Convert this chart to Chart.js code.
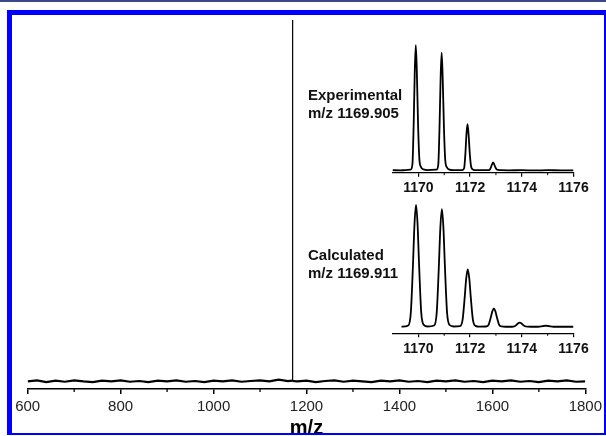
<!DOCTYPE html>
<html>
<head>
<meta charset="utf-8">
<script src="https://cdn.jsdelivr.net/npm/chart.js@4.4.0/dist/chart.umd.min.js"></script>
<style>
body { margin: 0; width: 606px; height: 436px; overflow: hidden; background: #fff; position: relative; }
#strip { position: absolute; left: 0; top: 0; width: 606px; height: 2px; background: #3d4886; }
#frame { position: absolute; left: 7px; top: 10px; width: 599px; height: 425px; box-sizing: border-box;
  border-top: 5px solid #0000ff; border-left: 5px solid #0000ff; border-right: 2px solid #0000ff; border-bottom: 2px solid #0000ff;
  pointer-events: none; z-index: 5; }
canvas { position: absolute; }
#main { left: 0; top: 0; }
#exp { left: 300px; top: 30px; }
#calc { left: 300px; top: 190px; }
</style>
</head>
<body>
<div id="strip"></div>
<canvas id="main" width="606" height="436"></canvas>
<canvas id="exp" width="300" height="170"></canvas>
<canvas id="calc" width="300" height="170"></canvas>
<div id="frame"></div>
<script>
// full spectrum
const mainMz = [600,620,640,660,680,700,720,740,760,780,800,820,840,860,880,900,920,940,960,980,1000,1020,1040,1060,1080,1100,1120,1140,1160,
  1169.4,1169.9,1170.4,
  1180,1200,1220,1240,1260,1280,1300,1320,1340,1360,1380,1400,1420,1440,1460,1480,1500,1520,1540,1560,1580,1600,1620,1640,1660,1680,1700,1720,1740,1760,1780,1800];
const mainInt = [0.3,0.6,0.1,0.5,0.2,0.6,0.3,0.1,0.5,0.3,0.6,0.2,0.4,0.1,0.5,0.3,0.6,0.2,0.4,0.1,0.5,0.3,0.6,0.2,0.4,0.6,0.3,0.8,0.4,
  0.5,100,0.4,
  0.3,0.5,0.1,0.4,0.6,0.2,0.5,0.3,0.1,0.5,0.3,0.6,0.2,0.4,0.1,0.5,0.3,0.6,0.2,0.4,0.1,0.5,0.3,0.6,0.2,0.4,0.1,0.5,0.3,0.6,0.2,0.3];
const mainMinor = [700,900,1100,1300,1500,1700];

// experimental isotope pattern
const expMz = [1169.0,1169.3,1169.5,
  1169.70,1169.77,1169.82,1169.86,1169.90,1169.94,1169.99,1170.04,1170.10,1170.20,1170.35,
  1170.70,1170.77,1170.82,1170.86,1170.90,1170.94,1170.99,1171.04,1171.10,1171.20,1171.35,
  1171.70,1171.77,1171.82,1171.86,1171.90,1171.94,1171.99,1172.04,1172.10,1172.20,1172.35,
  1172.69,1172.76,1172.81,1172.85,1172.89,1172.93,1172.98,1173.03,1173.09,1173.21,
  1173.5,1174,1174.5,1175,1175.5,1176];
const expInt = [0.4,0.3,0.4,
  0.8,5,38,78,100,80,36,9,3,1,0.5,
  0.8,4.7,36,73,94,75,34,8.5,2.8,0.9,0.5,
  0.5,1.9,14,29,37,29.6,13.3,3.3,1.1,0.5,0.4,
  0.4,0.8,2.8,5,6.5,5.2,2.6,1,0.6,0.4,
  0.3,0.4,0.2,0.4,0.3,0.3];

// calculated isotope pattern
const calcMz = [1169.35,
  1169.61,1169.71,1169.79,1169.85,1169.91,1169.97,1170.03,1170.11,1170.21,1170.36,
  1170.61,1170.71,1170.79,1170.85,1170.91,1170.97,1171.03,1171.11,1171.21,1171.36,
  1171.61,1171.71,1171.79,1171.85,1171.91,1171.97,1172.03,1172.11,1172.21,1172.36,
  1172.62,1172.72,1172.80,1172.86,1172.92,1172.98,1173.04,1173.12,1173.22,1173.37,
  1173.62,1173.72,1173.80,1173.86,1173.92,1173.98,1174.04,1174.12,1174.22,1174.37,
  1174.63,1174.75,1174.85,1174.93,1175.01,1175.11,1175.23,1176];
const calcInt = [0,
  1,12,50,84,100,84,50,12,1.5,0.2,
  1,11.6,48,81,96.5,81,48,11.6,1.4,0.2,
  0.5,5.6,23.5,39.5,47,39.5,23.5,5.6,0.7,0.1,
  0.2,1.8,7.5,12.6,15,12.6,7.5,1.8,0.2,0,
  0,0.4,1.6,2.8,3.3,2.8,1.6,0.4,0.05,0,
  0,0.2,0.6,0.8,0.6,0.2,0,0];
const insetTicks = [1170,1172,1174,1176];
const insetMinor = [1171,1173,1175];

Chart.defaults.font.family = '"Liberation Sans", Arial, sans-serif';
Chart.defaults.color = '#111';

function pts(xs, ys) { return xs.map((x, i) => ({x: x, y: ys[i]})); }

// short ticks between the labelled ones
const minorTicks = {
  id: 'minorTicks',
  afterDraw(chart, args, opts) {
    const s = chart.scales.x, ctx = chart.ctx;
    ctx.save();
    ctx.strokeStyle = '#000';
    ctx.lineWidth = opts.width;
    opts.values.forEach(v => {
      const px = s.getPixelForValue(v);
      ctx.beginPath();
      ctx.moveTo(px, s.top);
      ctx.lineTo(px, s.top + opts.length);
      ctx.stroke();
    });
    ctx.restore();
  }
};

// text block left of an inset
const insetText = {
  id: 'insetText',
  afterDraw(chart, args, opts) {
    const ctx = chart.ctx;
    ctx.save();
    ctx.font = 'bold 15px "Liberation Sans", Arial, sans-serif';
    ctx.fillStyle = '#111';
    ctx.textBaseline = 'middle';
    opts.lines.forEach((t, i) => ctx.fillText(t, opts.x, opts.y + i * 18));
    ctx.restore();
  }
};

new Chart(document.getElementById('main'), {
  type: 'line',
  data: { datasets: [{
    data: pts(mainMz, mainInt), borderColor: '#000', borderWidth: 2.2, pointRadius: 0, tension: 0,
    segment: { borderWidth: c => (c.p0.parsed.y > 5 || c.p1.parsed.y > 5) ? 1.2 : 2.2 }
  }] },
  options: {
    responsive: false, animation: false,
    layout: { padding: { left: 27.7, right: 19.3, top: 20, bottom: 0 } },
    plugins: { legend: { display: false }, tooltip: { enabled: false },
      minorTicks: { values: mainMinor, length: 3, width: 1.3 } },
    scales: {
      x: {
        type: 'linear', min: 600, max: 1800,
        ticks: { stepSize: 200, padding: 4, color: '#222', font: { size: 15 }, callback: v => String(v) },
        grid: { display: true, drawOnChartArea: false, drawTicks: true, tickLength: 5, color: '#000', lineWidth: 1.5 },
        border: { display: true, color: '#000', width: 1.5 },
        title: { display: true, text: 'm/z', color: '#000', font: { size: 20, weight: 'bold' }, padding: { top: 0, bottom: -4 } },
        afterFit: s => { s.height = 47; }
      },
      y: { display: false, min: -1.8, max: 100 }
    }
  },
  plugins: [minorTicks]
});

function inset(id, xs, ys, yMin, yMax, axisH, lines) {
  new Chart(document.getElementById(id), {
    type: 'line',
    data: { datasets: [{ data: pts(xs, ys), borderColor: '#000', borderWidth: 1.8, pointRadius: 0, cubicInterpolationMode: 'monotone' }] },
    options: {
      responsive: false, animation: false,
      layout: { padding: { left: 92.5, right: 26.5, top: 10, bottom: 0 } },
      plugins: { legend: { display: false }, tooltip: { enabled: false },
        minorTicks: { values: insetMinor, length: 2.5, width: 1 },
        insetText: { lines: lines, x: 8, y: 66 } },
      scales: {
        x: {
          type: 'linear', min: 1169, max: 1176,
          afterBuildTicks: s => { s.ticks = insetTicks.map(v => ({ value: v })); },
          ticks: { padding: 3, color: '#111', font: { size: 14, weight: 'bold' }, callback: v => String(v) },
          grid: { display: true, drawOnChartArea: false, drawTicks: true, tickLength: 4, color: '#000', lineWidth: 1.2 },
          border: { display: true, color: '#000', width: 1.2 },
          afterFit: s => { s.height = axisH; }
        },
        y: { display: false, min: yMin, max: yMax }
      }
    },
    plugins: [minorTicks, insetText]
  });
}

inset('exp', expMz, expInt, -1.6, 104, 27.3, ['Experimental', 'm/z 1169.905']);
inset('calc', calcMz, calcInt, -5.4, 104.1, 26.7, ['Calculated', 'm/z 1169.911']);
</script>
</body>
</html>
